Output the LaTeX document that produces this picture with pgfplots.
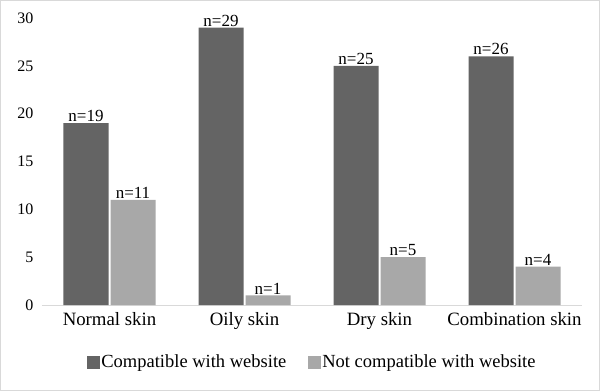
\documentclass[border=0pt]{standalone}
\usepackage{pgfplots}
\pgfplotsset{compat=1.18}
\usepackage{fontspec}
\setmainfont{Liberation Serif}
\definecolor{darkbar}{RGB}{100,100,100}
\definecolor{lightbar}{RGB}{168,168,168}
\definecolor{axisgray}{RGB}{217,217,217}
\begin{document}
\begin{tikzpicture}
\draw[axisgray, line width=1pt] (-41.5pt,-85.5pt) rectangle (557.5pt,304.5pt);
\begin{axis}[
  at={(0,0)}, anchor=south west,
  scale only axis, width=540pt, height=287pt,
  ybar, bar width=45pt,
  xmin=-0.5, xmax=3.5, ymin=0, ymax=30,
  xtick={0,1,2,3},
  xticklabels={Normal skin, Oily skin, Dry skin, Combination skin},
  ytick={0,5,...,30},
  axis x line*=bottom,
  axis y line*=left,
  x axis line style={axisgray, line width=1pt, -},
  y axis line style={draw=none},
  major tick length=0pt,
  xticklabel style={font=\fontsize{18.8}{20}\selectfont, yshift=-4pt},
  yticklabel style={font=\fontsize{16}{18}\selectfont, xshift=-5pt},
  /pgf/number format/assume math mode=true,
  every node near coord/.append style={font=\fontsize{17}{18}\selectfont, inner sep=1pt},
  nodes near coords={n=\pgfmathprintnumber{\pgfplotspointmeta}},
  legend style={draw=none, at={(0.5,-0.199)}, anchor=center, legend columns=2,
     font=\fontsize{18.5}{20}\selectfont,
     /tikz/every even column/.append style={column sep=20pt},
     /tikz/every node/.append style={inner sep=1.5pt}},
  legend image code/.code={\path[#1,draw=none] (0pt,-6.5pt) rectangle (13pt,6.5pt);},
  clip=false,
]
\addplot[fill=darkbar, draw=none] coordinates {(0,19) (1,29) (2,25) (3,26)};
\addplot[fill=lightbar, draw=none] coordinates {(0,11) (1,1) (2,5) (3,4)};
\legend{Compatible with website, Not compatible with website}
\end{axis}
\end{tikzpicture}
\end{document}
